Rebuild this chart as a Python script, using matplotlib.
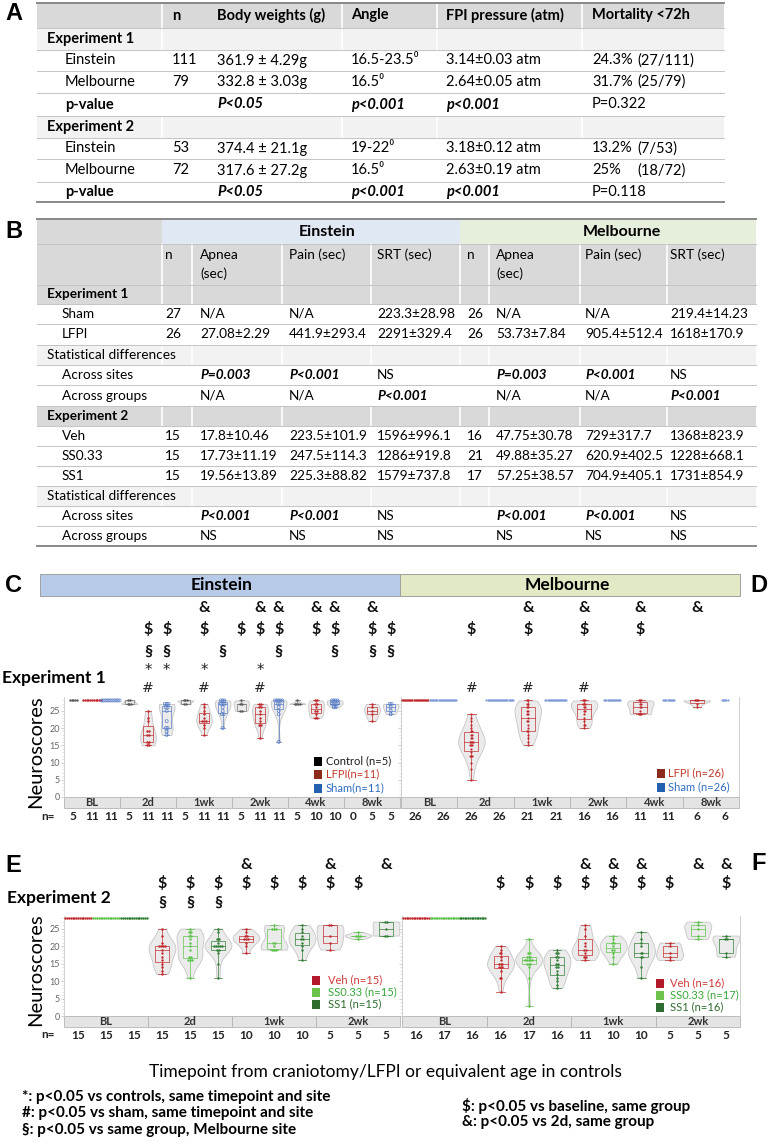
import numpy as np
import matplotlib
matplotlib.use('Agg')
import matplotlib.pyplot as plt
import matplotlib.transforms as mtransforms
from matplotlib.patches import Rectangle

plt.rcParams['font.family'] = ['Lato', 'DejaVu Sans']

W, H = 771, 1146
FA = 10.5   # table A text size
FB = 9.8    # table B text size

# ---------------- table A data ----------------
a_head = ['', 'n', 'Body weights (g)', 'Angle', 'FPI pressure (atm)', 'Mortality <72h']
a_labels = ['Experiment 1', 'Einstein', 'Melbourne', 'p-value',
            'Experiment 2', 'Einstein', 'Melbourne', 'p-value']
a_kind = ['section', 'item', 'item', 'p', 'section', 'item', 'item', 'p']
a_n = ['', '111', '79', '', '', '53', '72', '']
a_weight = ['', '361.9 ± 4.29g', '332.8 ± 3.03g', 'P<0.05', '', '374.4 ± 21.1g', '317.6 ± 27.2g', 'P<0.05']
a_angle = ['', '16.5-23.5⁰', '16.5⁰', 'p<0.001', '', '19-22⁰', '16.5⁰', 'p<0.001']
a_fpi = ['', '3.14±0.03 atm', '2.64±0.05 atm', 'p<0.001', '', '3.18±0.12 atm', '2.63±0.19 atm', 'p<0.001']
a_mort = ['', '24.3%', '31.7%', 'P=0.322', '', '13.2%', '25%', 'P=0.118']
a_mort_frac = ['', '(27/111)', '(25/79)', '', '', '(7/53)', '(18/72)', '']

# ---------------- table B data ----------------
b_sites = ['Einstein', 'Melbourne']
b_head = ['n', 'Apnea\n(sec)', 'Pain (sec)', 'SRT (sec)']
b_labels = ['Experiment 1', 'Sham', 'LFPI', 'Statistical differences', 'Across sites', 'Across groups',
            'Experiment 2', 'Veh', 'SS0.33', 'SS1', 'Statistical differences', 'Across sites', 'Across groups']
b_kind = ['section', 'item', 'item', 'stat', 'item', 'item',
          'section', 'item', 'item', 'item', 'stat', 'item', 'item']
b_einstein = [[], ['27', 'N/A', 'N/A', '223.3±28.98'], ['26', '27.08±2.29', '441.9±293.4', '2291±329.4'], [],
              ['', 'P=0.003', 'P<0.001', 'NS'], ['', 'N/A', 'N/A', 'P<0.001'], [],
              ['15', '17.8±10.46', '223.5±101.9', '1596±996.1'], ['15', '17.73±11.19', '247.5±114.3', '1286±919.8'],
              ['15', '19.56±13.89', '225.3±88.82', '1579±737.8'], [],
              ['', 'P<0.001', 'P<0.001', 'NS'], ['', 'NS', 'NS', 'NS']]
b_melbourne = [[], ['26', 'N/A', 'N/A', '219.4±14.23'], ['26', '53.73±7.84', '905.4±512.4', '1618±170.9'], [],
               ['', 'P=0.003', 'P<0.001', 'NS'], ['', 'N/A', 'N/A', 'P<0.001'], [],
               ['16', '47.75±30.78', '729±317.7', '1368±823.9'], ['21', '49.88±35.27', '620.9±402.5', '1228±668.1'],
               ['17', '57.25±38.57', '704.9±405.1', '1731±854.9'], [],
               ['', 'P<0.001', 'P<0.001', 'NS'], ['', 'NS', 'NS', 'NS']]

# ---------------- neuroscores, experiment 1 ----------------
tp1 = ['BL', '2d', '1wk', '2wk', '4wk', '8wk']
c_control = [[28] * 5, [27, 27, 27, 28, 28], [27, 27, 28, 28, 28], [28, 27, 27, 25, 25], [27, 27, 27, 27, 28], []]
c_lfpi = [[28] * 11, [25, 23, 22, 19, 19, 18, 18, 16, 16, 15, 15], [27, 26, 25, 24, 23, 22, 22, 22, 21, 20, 18],
          [27, 27, 26, 26, 25, 24, 23, 22, 21, 21, 17], [28, 28, 27, 27, 26, 25, 25, 24, 23, 23], [27, 26, 25, 24, 22]]
c_sham = [[28] * 11, [27, 27, 27, 26, 26, 25, 22, 20, 20, 19, 18], [28, 28, 28, 27, 27, 27, 26, 25, 24, 24, 20],
          [28, 28, 28, 28, 28, 27, 27, 26, 25, 24, 16], [28, 28, 28, 28, 27, 27, 27, 27, 26, 26], [27, 27, 26, 25, 24]]
c_annot = ['', '', '', '', '$§*#', '$§*', '', '&$*#', '§', '$', '&$*#', '&$§', '', '&$', '&$§', '', '&$§', '$§']

d_lfpi = [[28] * 26,
          [24, 23, 22, 21, 20, 19, 19, 18, 18, 17, 17, 16, 16, 16, 16, 15, 15, 15, 14, 13, 12, 12, 12, 10, 8, 5],
          [28, 28, 27, 27, 26, 26, 25, 25, 24, 24, 23, 22, 22, 21, 20, 19, 19, 18, 17, 16, 15],
          [28, 28, 28, 27, 27, 27, 26, 26, 25, 25, 24, 23, 22, 21, 21, 20],
          [28, 28, 28, 27, 27, 26, 26, 25, 24, 24, 24], [28, 28, 28, 28, 27, 26]]
d_sham = [[28] * 26, [28] * 26, [28] * 21, [28] * 16, [28] * 11, [28] * 6]
d_annot = ['', '', '$#', '', '&$#', '', '&$#', '', '&$', '', '&', '']

# ---------------- neuroscores, experiment 2 ----------------
tp2 = ['BL', '2d', '1wk', '2wk']
e_veh = [[28] * 15, [25, 23, 21, 20, 20, 20, 20, 19, 18, 17, 16, 15, 14, 13, 12],
         [25, 24, 23, 23, 22, 22, 22, 21, 20, 18], [26, 26, 23, 21, 19]]
e_ss033 = [[28] * 15, [25, 24, 24, 23, 23, 22, 21, 20, 19, 17, 17, 16, 16, 16, 11],
           [26, 25, 25, 25, 21, 21, 20, 19, 19, 19], [24, 23, 23, 23, 22]]
e_ss1 = [[28] * 15, [25, 24, 22, 22, 21, 20, 20, 20, 20, 20, 19, 19, 18, 15, 11],
         [26, 25, 24, 23, 22, 22, 21, 20, 19, 16], [27, 27, 25, 23, 23]]
e_annot = ['', '', '', '$§', '$§', '$§', '&$', '$', '$', '&$', '$', '&']

f_veh = [[28] * 16, [20, 19, 18, 18, 17, 16, 15, 15, 15, 14, 14, 14, 13, 11, 11, 7],
         [26, 25, 23, 21, 20, 19, 19, 18, 17, 17, 16], [21, 20, 18, 17, 16]]
f_ss033 = [[28] * 17, [22, 18, 18, 17, 17, 17, 16, 16, 16, 16, 16, 15, 15, 15, 14, 11, 3],
           [23, 22, 21, 21, 20, 19, 19, 18, 17, 15], [27, 26, 25, 23, 22]]
f_ss1 = [[28] * 16, [19, 18, 18, 17, 17, 16, 15, 15, 14, 14, 13, 12, 11, 10, 9, 8],
         [24, 22, 21, 20, 18, 18, 17, 17, 14, 11], [23, 22, 22, 18, 17]]
f_annot = ['', '', '', '$', '$', '$', '&$', '&$', '&$', '$', '&', '&$']

RED = '#c0282d'
BLUE = '#5b7fc7'
GREY = '#5a5a5a'
LGREEN = '#5dc24b'
DGREEN = '#2e7d32'

fig = plt.figure(figsize=(W / 100, H / 100), dpi=100)
bg = fig.add_axes([0, 0, 1, 1])
bg.set_xlim(0, W)
bg.set_ylim(H, 0)
bg.axis('off')


def rect(x, y, w, h, fc, ec='none', lw=0.0, z=0):
    bg.add_patch(Rectangle((x, y), w, h, facecolor=fc, edgecolor=ec, lw=lw, zorder=z))


def is_p(s):
    return len(s) > 1 and s[0] in 'Pp' and s[1] in '<='


# ================= TABLE A =================
a_left, a_right = 37, 724
a_edges = [3, 28, 50, 71, 93, 116, 138, 159, 182, 202]
a_colx = [47, 172, 217, 351, 446, 592]
a_vl = [162, 342, 437, 582]
rect(a_left, a_edges[0], a_right - a_left, a_edges[1] - a_edges[0], '#d9d9d9')
for i, k in enumerate(a_kind):
    if k == 'section':
        rect(a_left, a_edges[i + 1], a_right - a_left, a_edges[i + 2] - a_edges[i + 1], '#f2f2f2')
for xv in a_vl:
    bg.plot([xv, xv], [a_edges[0], a_edges[-1]], color='white', lw=1.2, zorder=1)
for yy in a_edges[1:-1]:
    bg.plot([a_left, a_right], [yy, yy], color='#c4c4c4', lw=0.7, zorder=2)
bg.plot([a_left, a_right], [a_edges[0]] * 2, color='#808080', lw=1.3, zorder=2)
bg.plot([a_left, a_right], [a_edges[-1]] * 2, color='#808080', lw=1.3, zorder=2)
for j, h in enumerate(a_head):
    bg.text(a_colx[j], (a_edges[0] + a_edges[1]) / 2, h, fontsize=FA, fontweight='bold',
            va='center', ha='left', zorder=3)
for i, lab in enumerate(a_labels):
    yc = (a_edges[i + 1] + a_edges[i + 2]) / 2
    k = a_kind[i]
    if k == 'item':
        bg.text(65, yc, lab, fontsize=FA, va='center', zorder=3)
    else:
        bg.text(47 if k == 'section' else 65, yc, lab, fontsize=FA, fontweight='bold', va='center', zorder=3)
    vals = [a_n[i], a_weight[i], a_angle[i], a_fpi[i]]
    for j, v in enumerate(vals):
        if is_p(v):
            bg.text(a_colx[j + 1], yc, v, fontsize=FA, fontweight='bold', style='italic', va='center', zorder=3)
        else:
            bg.text(a_colx[j + 1], yc, v, fontsize=FA, va='center', zorder=3)
    bg.text(a_colx[5], yc, a_mort[i], fontsize=FA, va='center', zorder=3)
    bg.text(637, yc, a_mort_frac[i], fontsize=FA, va='center', zorder=3)
bg.text(5, 14, 'A', fontsize=17, fontweight='bold', family='Liberation Sans', va='center')

# ================= TABLE B =================
b_left, b_right = 37, 756
b_edges = [219, 244, 285, 304, 324, 345, 365, 385, 406, 426, 446, 466, 486, 506, 526, 546]
b_colx = [165, 200, 289, 377, 467, 496, 585, 670]
b_vl = [162, 192, 282, 371, 460, 489, 580, 667]
rect(b_left, b_edges[0], 162 - b_left, b_edges[1] - b_edges[0], '#d9d9d9')
rect(162, b_edges[0], 460 - 162, b_edges[1] - b_edges[0], '#dfe8f3')
rect(460, b_edges[0], b_right - 460, b_edges[1] - b_edges[0], '#e6efdb')
rect(b_left, b_edges[1], b_right - b_left, b_edges[2] - b_edges[1], '#d9d9d9')
for i, k in enumerate(b_kind):
    if k != 'item':
        rect(b_left, b_edges[i + 2], b_right - b_left, b_edges[i + 3] - b_edges[i + 2],
             '#d9d9d9' if k == 'section' else '#f2f2f2')
for xv in b_vl:
    bg.plot([xv, xv], [b_edges[1], b_edges[-1]], color='white', lw=1.2, zorder=1)
for yy in b_edges[1:-1]:
    bg.plot([b_left, b_right], [yy, yy], color='#c4c4c4', lw=0.7, zorder=2)
bg.plot([b_left, b_right], [b_edges[0]] * 2, color='#808080', lw=1.3, zorder=2)
bg.plot([b_left, b_right], [b_edges[-1]] * 2, color='#808080', lw=1.3, zorder=2)
yc0 = (b_edges[0] + b_edges[1]) / 2
bg.text(327, yc0, b_sites[0], fontsize=11.5, fontweight='bold', ha='center', va='center', zorder=3)
bg.text(622, yc0, b_sites[1], fontsize=11.5, fontweight='bold', ha='center', va='center', zorder=3)
for s in range(2):
    for j, h in enumerate(b_head):
        for li, part in enumerate(h.split('\n')):
            bg.text(b_colx[4 * s + j], 255 + 19 * li, part, fontsize=FB, va='center', zorder=3)
for i, lab in enumerate(b_labels):
    yc = (b_edges[i + 2] + b_edges[i + 3]) / 2
    k = b_kind[i]
    if k == 'section':
        bg.text(47, yc, lab, fontsize=FB, fontweight='bold', va='center', zorder=3)
    elif k == 'stat':
        bg.text(47, yc, lab, fontsize=FB, va='center', zorder=3)
    else:
        bg.text(62, yc, lab, fontsize=FB, va='center', zorder=3)
    for s, rowvals in enumerate([b_einstein[i], b_melbourne[i]]):
        for j, v in enumerate(rowvals):
            if is_p(v):
                bg.text(b_colx[4 * s + j], yc, v, fontsize=FB, fontweight='bold', style='italic',
                        va='center', zorder=3)
            else:
                bg.text(b_colx[4 * s + j], yc, v, fontsize=FB, va='center', zorder=3)
bg.text(5, 232, 'B', fontsize=17, fontweight='bold', family='Liberation Sans', va='center')


# ================= VIOLIN PANELS =================
def draw_group(ax, xc, vals, color, hollow, sp, ms, boxc, vw):
    v = np.asarray(vals, float)
    if v.size == 0:
        return
    if v.std() > 0:
        grid = np.linspace(v.min(), v.max(), 120)
        bw = v.std(ddof=1) * v.size ** -0.2
        dens = np.exp(-0.5 * ((grid[:, None] - v[None, :]) / bw) ** 2).sum(axis=1)
        half = vw * dens / dens.max()
        ax.fill_betweenx(grid, xc - half, xc + half, facecolor='#ebebeb', edgecolor='#c6c6c6',
                         lw=0.6, zorder=1)
        q1, med, q3 = np.percentile(v, [25, 50, 75])
        ax.add_patch(Rectangle((xc - 0.25, q1), 0.5, q3 - q1, fill=False, edgecolor=boxc,
                               lw=0.6, alpha=0.8, zorder=2))
        kw = dict(color=boxc, lw=0.6, alpha=0.8, zorder=2)
        ax.plot([xc - 0.25, xc + 0.25], [med, med], **kw)
        ax.plot([xc, xc], [v.min(), q1], **kw)
        ax.plot([xc, xc], [q3, v.max()], **kw)
        ax.plot([xc - 0.15, xc + 0.15], [v.min()] * 2, **kw)
        ax.plot([xc - 0.15, xc + 0.15], [v.max()] * 2, **kw)
    xs, ys = [], []
    for u in np.unique(v):
        c = int(np.sum(v == u))
        xs.extend(xc + (np.arange(c) - (c - 1) / 2) * sp)
        ys.extend([u] * c)
    if hollow:
        ax.scatter(xs, ys, s=ms * 1.6, facecolors='none', edgecolors=color, linewidths=0.5, zorder=3)
    else:
        ax.scatter(xs, ys, s=ms, color=color, linewidths=0, zorder=3)


def panel(box, tps, series, colors, hollow, boxcols, annots, rows, sp_px, ms, ymax,
          yticklabels, right_spine, vw):
    x0, x1, y0, y1 = box
    ax = fig.add_axes([x0 / W, 1 - y1 / H, (x1 - x0) / W, (y1 - y0) / H])
    K = len(series)
    T = len(tps)
    ax.set_xlim(0, K * T)
    ax.set_ylim(0, ymax)
    ppu = (x1 - x0) / (K * T)
    hpx = y1 - y0
    tr = mtransforms.blended_transform_factory(ax.transData, ax.transAxes)
    i = 0
    for g in range(T):
        for k in range(K):
            xc = g * K + k + 0.5
            draw_group(ax, xc, series[k][g], colors[k], hollow[k], sp_px / ppu, ms, boxcols[k], vw)
            ax.text(xc, -19.5 / hpx, str(len(series[k][g])), transform=tr, ha='center', va='center',
                    fontsize=8.5, fontweight='bold', color='#222222', clip_on=False)
            for sym in annots[i]:
                if sym in '$&§':
                    ax.text(xc, (y1 - rows[sym]) / hpx, sym, transform=tr, ha='center', va='center',
                            fontsize=11.5, fontweight='bold', color='#111111', clip_on=False)
                else:
                    ax.text(xc, (y1 - rows[sym]) / hpx, sym, transform=tr, ha='center', va='center',
                            fontsize=10.5 if sym == '*' else 10, family='DejaVu Sans',
                            color='#222222', clip_on=False)
            i += 1
        ax.add_patch(Rectangle((g * K, -11 / hpx), K, 11 / hpx, transform=tr, clip_on=False,
                               facecolor='#e4e4e4', edgecolor='#b5b5b5', lw=0.6))
        ax.text(g * K + K / 2, -5.5 / hpx, tps[g], transform=tr, ha='center', va='center',
                fontsize=8, fontweight='bold', color='#333333', clip_on=False)
    ax.set_xticks([])
    ax.set_yticks(range(0, 26, 5))
    ax.set_yticks(range(0, 29), minor=True)
    ax.tick_params(axis='y', which='major', length=2, width=0.5, color='#bbbbbb',
                   labelsize=6.5, labelcolor='#666666', pad=1)
    ax.tick_params(axis='y', which='minor', length=1.2, width=0.4, color='#cccccc')
    if not yticklabels:
        ax.set_yticklabels([])
    for sp in ['top', 'bottom']:
        ax.spines[sp].set_visible(False)
    ax.spines['left'].set_color('#cfcfcf')
    ax.spines['left'].set_linewidth(0.7)
    ax.spines['right'].set_visible(right_spine)
    ax.spines['right'].set_color('#cfcfcf')
    ax.spines['right'].set_linewidth(0.7)
    ax.patch.set_alpha(0)
    return ax


rows1 = {'&': 608, '$': 630, '§': 652, '*': 671, '#': 688}
rows2 = {'&': 865, '$': 884, '§': 903}

# header bars
rect(40, 574, 360, 22, '#b7cbe8', ec='#a0a0a0', lw=0.7)
rect(400, 574, 340, 22, '#e1eac4', ec='#a0a0a0', lw=0.7)
bg.text(222, 585, 'Einstein', fontsize=12.5, fontweight='bold', ha='center', va='center')
bg.text(567, 585, 'Melbourne', fontsize=12.5, fontweight='bold', ha='center', va='center')
bg.text(5, 585, 'C', fontsize=17, fontweight='bold', family='Liberation Sans', va='center')
bg.text(750, 585, 'D', fontsize=17, fontweight='bold', family='Liberation Sans', va='center')
bg.text(2, 678, 'Experiment 1', fontsize=12.5, fontweight='bold', va='center')

panel((64, 400, 697, 797), tp1, [c_control, c_lfpi, c_sham], [GREY, RED, BLUE], [False, False, True],
      ['#777777', RED, BLUE], c_annot, rows1, 1.8, 3, 29, True, False, 0.42)
panel((401, 739, 697, 797), tp1, [d_lfpi, d_sham], [RED, '#7f9ad6'], [False, False],
      [RED, BLUE], d_annot, rows1, 1.05, 2.5, 29, False, True, 0.47)
bg.text(36, 752, 'Neuroscores', fontsize=14.5, rotation=90, ha='center', va='center')
bg.text(48, 817, 'n=', fontsize=8.5, fontweight='bold', ha='center', va='center', color='#222222')

legend_c = [('Control (n=5)', '#000000', '#1a1a1a'), ('LFPI(n=11)', '#8c2a1c', '#c0392b'),
            ('Sham(n=11)', '#2361b0', '#2f6cc0')]
legend_d = [('LFPI (n=26)', '#8c2a1c', '#c0392b'), ('Sham (n=26)', '#2361b0', '#2f6cc0')]
legend_e = [('Veh (n=15)', '#b3182b', '#d03a3a'), ('SS0.33 (n=15)', '#6cc24a', '#3aa63a'),
            ('SS1 (n=15)', '#2e6b2e', '#2e6b2e')]
legend_f = [('Veh (n=16)', '#b3182b', '#d03a3a'), ('SS0.33 (n=17)', '#6cc24a', '#3aa63a'),
            ('SS1 (n=16)', '#2e6b2e', '#2e6b2e')]


def legend(items, xs, xt, ys):
    for (lab, sq, tc), yy in zip(items, ys):
        rect(xs, yy - 4.5, 8, 9, sq, z=5)
        bg.text(xt, yy, lab, fontsize=8, color=tc, va='center', zorder=5)


legend(legend_c, 314, 326, [761, 774, 788])
legend(legend_d, 657, 668, [773, 787])

# experiment 2
bg.text(5, 865, 'E', fontsize=17, fontweight='bold', family='Liberation Sans', va='center')
bg.text(751, 863, 'F', fontsize=17, fontweight='bold', family='Liberation Sans', va='center')
bg.text(7, 898, 'Experiment 2', fontsize=12.5, fontweight='bold', va='center')
panel((64, 400, 916, 1016), tp2, [e_veh, e_ss033, e_ss1], [RED, LGREEN, DGREEN], [False, False, False],
      [RED, LGREEN, DGREEN], e_annot, rows2, 1.8, 3, 28.6, True, False, 0.48)
panel((402, 740, 916, 1016), tp2, [f_veh, f_ss033, f_ss1], [RED, LGREEN, DGREEN], [False, False, False],
      [RED, LGREEN, DGREEN], f_annot, rows2, 1.7, 3, 28.6, False, True, 0.48)
bg.text(36, 970, 'Neuroscores', fontsize=14.5, rotation=90, ha='center', va='center')
bg.text(48, 1035, 'n=', fontsize=8.5, fontweight='bold', ha='center', va='center', color='#222222')
legend(legend_e, 312, 328, [980, 992, 1004])
legend(legend_f, 656, 670, [983, 995, 1007])

# footer
bg.text(385, 1072, 'Timepoint from craniotomy/LFPI or equivalent age in controls', fontsize=12.5,
        ha='center', va='center')
notes_left = ['*: p<0.05 vs controls, same timepoint and site', '#: p<0.05 vs sham, same timepoint and site',
              '§: p<0.05 vs same group, Melbourne site']
notes_right = ['$: p<0.05 vs baseline, same group', '&: p<0.05 vs 2d, same group']
for t, yy in zip(notes_left, [1097, 1113, 1130]):
    bg.text(22, yy, t, fontsize=11, fontweight='bold', va='center')
for t, yy in zip(notes_right, [1106, 1122]):
    bg.text(462, yy, t, fontsize=11, fontweight='bold', va='center')

fig.savefig('out.png', dpi=100)
